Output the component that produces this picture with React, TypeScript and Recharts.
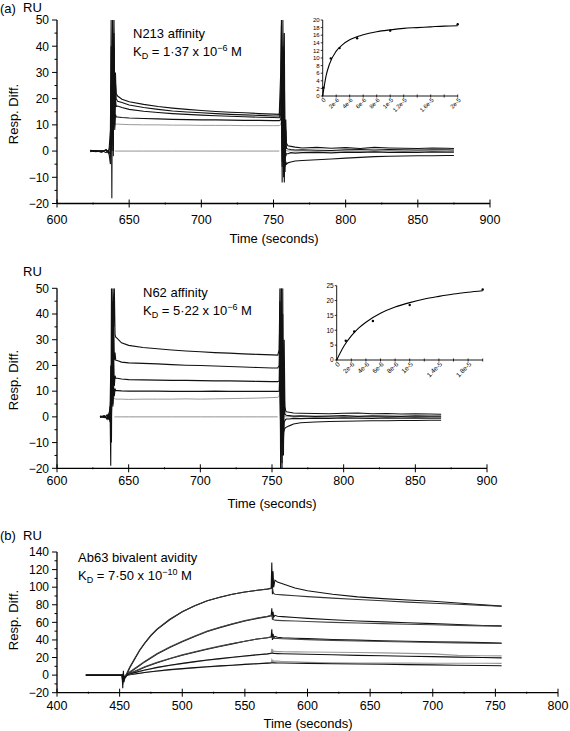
import React from 'react'
import { LineChart, Line, XAxis, YAxis } from 'recharts'

const FONT = '"Liberation Sans", Arial, Helvetica, sans-serif'
const W = 570

// ---- panel (a) top: N213 affinity sensorgrams ----
const tN213 = [623, 627, 631, 634, 636, 637, 637.5, 638, 638.5, 639, 639.5, 640, 640.5, 641, 642, 645, 650, 660, 670, 680, 690, 700, 710, 720, 730, 740, 750, 754, 755, 755.5, 756, 756.5, 757, 757.5, 758, 758.5, 759, 760, 762, 765, 770, 780, 790, 800, 810, 820, 830, 840, 850, 860, 870, 875]
const n213s1 = [0.3, 0, -0.4, 0.6, -0.8, -5, 50, -18, 50, 20, 45, 18, 26, 22, 21, 19.8, 18.8, 17.8, 17, 16.4, 15.9, 15.5, 15.1, 14.8, 14.6, 14.3, 14.1, 14, 30, 50, -12, 50, 5, 45, -8, 12, 3, 2, 1.8, 1.5, 1.2, 1.4, 1.1, 1.3, 1.0, 1.4, 1.2, 1.1, 1.0, 1.2, 1.1, 1.0]
const n213s2 = [0.2, 0.1, -0.3, 0.4, -0.2, 8, 40, 0, 50, -2, 50, 14, 30, 20, 19, 18.5, 17.6, 16.6, 15.9, 15.3, 14.9, 14.6, 14.3, 14.0, 13.8, 13.6, 13.4, 13.4, 20, 48, 0, 40, -10, 30, -4, 8, 1, 0.8, 0.6, 0.4, 0.5, 0.3, 0.2, 0.5, 0.6, 0.4, 0.6, 0.5, 0.4, 0.5, 0.5, 0.4]
const n213s3 = [0, -0.2, 0.2, -0.6, 0.5, 2, 25, 10, 35, 0, 40, 8, 20, 17, 17.2, 16.6, 15.9, 15.2, 14.7, 14.3, 14, 13.7, 13.5, 13.3, 13.1, 12.9, 12.8, 12.7, 14, 35, -6, 28, 2, -12, 6, -2, -1, -1, -0.6, -0.8, -0.6, -0.5, -0.7, -0.4, -0.5, -0.3, -0.5, -0.4, -0.5, -0.3, -0.4, -0.4]
const n213s4 = [-0.2, 0.2, 0, 0.3, -1, 0, 12, 5, 20, 2, 25, 10, 14, 13, 13, 12.8, 12.6, 12.4, 12.3, 12.1, 12, 11.9, 11.9, 11.8, 11.7, 11.7, 11.6, 11.6, 12, 25, -4, 10, -8, 2, -6, -4, -5, -4.5, -4.2, -3.8, -3.6, -3.3, -3.0, -2.7, -2.4, -2.1, -2.0, -1.9, -1.8, -1.8, -1.7, -1.7]
const n213s5 = [0.1, 0, -0.2, 0.2, 0, 0, 5, 2, 12, 8, 11, 9, 10.5, 10.3, 10.3, 10.2, 10.1, 10, 10, 9.9, 9.9, 9.8, 9.8, 9.8, 9.7, 9.7, 9.7, 9.7, 10, 12, 5, 8, 2, 3, 1, 0.5, 0.2, 0, 0.2, 0, 0.1, -0.1, 0, 0.1, -0.1, 0, 0.1, 0, 0, 0.1, 0, 0]
const n213Zero = [null, null, null, null, null, null, null, null, null, null, null, 0, 0, 0, 0, 0, 0, 0, 0, 0, 0, 0, 0, 0, 0, 0, 0, 0, null, null, null, null, null, null, null, null, null, null, null, null, null, null, null, null, null, null, null, null, null, null, null, null]

// ---- panel (a) bottom: N62 affinity sensorgrams ----
const tN62 = [630, 633, 635, 636, 637, 637.5, 638, 638.5, 639, 639.5, 640, 640.5, 641, 642, 645, 650, 660, 670, 680, 690, 700, 710, 720, 730, 740, 750, 754, 755, 755.5, 756, 756.5, 757, 757.5, 758, 758.5, 759, 759.5, 760, 762, 765, 770, 780, 790, 800, 810, 820, 830, 840, 850, 860, 868]
const n62s1 = [0.2, -0.3, 0.8, -0.5, 4, -19, 50, 20, 50, 35, 50, 32, 31, 30.5, 28.8, 27.8, 27, 26.5, 26, 25.6, 25.3, 25, 24.8, 24.5, 24.3, 24.1, 24, 26, 50, -20, 50, -20, 50, -15, 30, 4, 2.5, 2, 1.8, 1.5, 1.4, 1.3, 1.2, 1.4, 1.5, 1.2, 1.3, 1.1, 1.2, 1.1, 1.0]
const n62s2 = [-0.2, 0.3, -0.5, 1, -2, 10, -10, 45, 10, 40, 22, 25, 22, 21.9, 21.3, 21, 20.8, 20.6, 20.3, 20.1, 20, 19.8, 19.6, 19.4, 19.2, 19, 19, 20, 45, -10, 50, -18, 40, -10, 10, 1, 0.8, 0.6, 0.5, 0.3, 0.4, 0.2, 0.3, 0.5, 0.2, 0.4, 0.3, 0.2, 0.4, 0.3, 0.3]
const n62s3 = [0, 0.5, -1, 0.3, 1, 20, 0, 30, 5, 25, 12, 16, 15, 15, 14.7, 14.5, 14.4, 14.3, 14.2, 14.2, 14.1, 14, 14, 13.9, 13.8, 13.7, 13.7, 14, 30, -5, 35, -15, 20, -8, -2, -1.5, -1, -0.8, -0.8, -0.6, -0.7, -0.5, -0.6, -0.4, -0.5, -0.6, -0.4, -0.5, -0.4, -0.5, -0.5]
const n62s4 = [0.3, -0.2, 0.5, -0.8, 0, 8, 2, 15, 4, 12, 8, 11, 10.2, 10.2, 10.1, 10, 10, 10, 9.9, 9.9, 9.9, 10, 9.9, 9.9, 9.9, 9.9, 9.9, 10, 18, -3, 20, -10, 5, -6, -5, -4.5, -4.2, -4, -3.5, -2.8, -2.3, -2, -1.8, -1.7, -1.6, -1.5, -1.5, -1.4, -1.4, -1.3, -1.3]
const n62s5 = [0, 0.1, -0.2, 0, 0, 3, 1, 10, 6, 8, 7, 7, 6.9, 6.9, 6.9, 6.8, 6.9, 6.9, 6.9, 7, 6.9, 7, 7.1, 7.2, 7.3, 7.5, 7.6, 8, 10, 4, 6, 2, 1, 0.5, 0.3, 0.2, 0.1, 0, 0.1, 0, 0.1, 0, -0.1, 0, 0.1, 0, 0, 0.1, 0, 0, 0]
const n62Zero = [null, null, null, null, null, null, null, null, null, null, 0, 0, 0, 0, 0, 0, 0, 0, 0, 0, 0, 0, 0, 0, 0, 0, 0, null, null, null, null, null, null, null, null, null, null, null, null, null, null, null, null, null, null, null, null, null, null, null, null]

// ---- panel (b): Ab63 bivalent avidity, data and fitted curves ----
const tAb63 = [423, 440, 452, 452.5, 453, 453.5, 454, 455, 458, 462, 466, 470, 475, 480, 490, 500, 510, 520, 530, 540, 550, 560, 568, 571, 571.5, 572, 572.5, 573, 574, 576, 580, 590, 600, 620, 640, 660, 680, 700, 720, 740, 755]
const ab1 = [0, 0, 0, -15, 5, -8, -4, -2, 8, 18, 28, 36, 45, 52, 63, 72, 79, 84.5, 88.5, 92, 94.5, 96.5, 98, 99, 128, 92, 118, 100, 108, 106, 104, 99, 96, 92, 89, 87, 85.5, 84, 82, 80, 78.5]
const ab1Fit = [null, null, null, null, null, null, null, 0, 9, 19, 28.5, 36.5, 45.5, 52.5, 63.5, 72, 79, 84.5, 88.5, 92, 94.5, 96.5, 97.8, 98.5, 98.6, 98.7, 95, 93, 92, 91.7, 91.2, 90.2, 89.3, 87.5, 86, 84.5, 83, 81.8, 80.5, 79.3, 78.3]
const ab2 = [0, 0, 0, -10, 2, -5, -3, -1.5, 3, 7, 11, 15, 19.5, 24, 31.5, 38, 44, 49.5, 54, 58, 61.5, 64.5, 66.5, 67.5, 76, 63, 72, 66, 68, 67, 66.5, 65.5, 64.5, 63, 61.5, 60.5, 59.5, 58.5, 57.5, 56.5, 56]
const ab2Fit = [null, null, null, null, null, null, null, 0, 3.5, 7.5, 11.5, 15.5, 20, 24.5, 32, 38.5, 44.5, 50, 54.5, 58.5, 62, 65, 67, 68, 68, 67, 64, 63, 62.5, 62.3, 62, 61.5, 61, 60, 59.2, 58.5, 57.8, 57.2, 56.6, 56, 55.6]
const ab3 = [0, 0, 0, -8, 1, -4, -2, -1, 1.5, 4, 6.5, 9, 11.5, 14, 18.5, 22.5, 26, 29.5, 32.5, 35.5, 38.5, 41, 42.5, 43.5, 52, 40, 47, 42, 44, 43, 42.5, 42, 41.5, 40.5, 39.8, 39, 38.5, 38, 37.5, 37, 36.5]
const ab3Fit = [null, null, null, null, null, null, null, 0, 2, 4.5, 7, 9.5, 12, 14.5, 19, 23, 26.5, 30, 33, 36, 38.5, 41, 42.5, 43, 43, 43, 42.5, 42, 41.8, 41.6, 41.3, 40.8, 40.3, 39.5, 38.8, 38.2, 37.6, 37.1, 36.7, 36.3, 36]
const ab4 = [0, 0, 0, -5, 1, -3, -1.5, -0.5, 1, 2.5, 4, 5.5, 7, 8.5, 11, 13, 15, 17, 18.5, 20, 21.5, 23, 24, 24.5, 30, 25, 28, 26.5, 27, 26.8, 26.6, 26.5, 26.3, 26, 25.7, 25.3, 24.8, 24.2, 22.5, 22, 21.8]
const ab4Fit = [null, null, null, null, null, null, null, 0, 1.2, 2.8, 4.3, 5.8, 7.3, 8.8, 11.3, 13.3, 15.3, 17.2, 18.8, 20.3, 21.8, 23.2, 24.2, 24.8, 24.9, 25, 24.8, 24.6, 24.5, 24.4, 24.3, 24, 23.7, 23.1, 22.5, 22, 21.5, 21, 20.5, 20, 19.6]
const ab5 = [0, 0, 0, -3, 0.5, -2, -1, -0.3, 0.5, 1.3, 2, 3, 3.8, 4.6, 6, 7.2, 8.3, 9.3, 10.3, 11.2, 12.1, 13, 13.7, 14, 17, 14.5, 16.5, 15.5, 16, 15.8, 15.5, 15, 14.5, 14, 13.8, 13.7, 13.6, 13.5, 13.5, 13.5, 13.4]
const ab5Fit = [null, null, null, null, null, null, null, 0, 0.6, 1.4, 2.2, 3, 3.9, 4.7, 6.2, 7.4, 8.5, 9.5, 10.5, 11.3, 12.2, 13, 13.6, 13.9, 14, 14, 14, 13.9, 13.9, 13.8, 13.7, 13.5, 13.3, 12.9, 12.6, 12.3, 11.9, 11.6, 11.3, 11, 10.7]

// ---- insets: steady-state response vs concentration (M) ----
const n213Conc = [0, 5e-7, 1e-6, 2e-6, 3e-6, 4e-6, 6e-6, 8e-6, 1e-5, 1.2e-5, 1.4e-5, 1.6e-5, 1.8e-5, 2e-5]
const n213Fit = [0, 5.3, 8.4, 11.8, 13.6, 14.8, 16.1, 16.9, 17.4, 17.8, 18.0, 18.2, 18.4, 18.5]
const n213PtConc = [1e-7, 1.2e-6, 2.5e-6, 5.1e-6, 1e-5, 2e-5]
const n213PtResp = [2.2, 9.9, 12.6, 15.2, 17.2, 18.9]
const n62Conc = [0, 1e-6, 2e-6, 3e-6, 4e-6, 6e-6, 8e-6, 1e-5, 1.2e-5, 1.4e-5, 1.6e-5, 1.8e-5, 2e-5]
const n62Fit = [0, 4.7, 8.1, 10.7, 12.7, 15.7, 17.8, 19.3, 20.5, 21.4, 22.2, 22.8, 23.3]
const n62PtConc = [1.24e-6, 2.4e-6, 4.96e-6, 1e-5, 2e-5]
const n62PtResp = [6.5, 9.6, 13.1, 18.5, 23.7]
const concTicks = [0, 2e-6, 4e-6, 6e-6, 8e-6, 1e-5, 1.2e-5, 1.4e-5, 1.6e-5, 1.8e-5, 2e-5]
const n213ConcLabels = ['0', '2e-6', '4e-6', '6e-6', '8e-6', '1e-5', '1.2e-5', '', '1.6e-5', '', '2e-5']
const n62ConcLabels = ['0', '2e-6', '4e-6', '6e-6', '8e-6', '1e-5', '', '1.4e-5', '', '1.8e-5', '']

const range = (a: number, b: number, s: number) => {
  const out: number[] = []
  for (let v = a; v <= b + 1e-9; v += s) out.push(Math.round(v * 1e9) / 1e9)
  return out
}

function rowsOf(t: number[], cols: Record<string, (number | null)[]>) {
  return t.map((x, i) => {
    const r: any = { t: x }
    Object.keys(cols).forEach((k) => (r[k] = cols[k][i]))
    return r
  })
}

const pairs = (xs: number[], ys: number[]) => xs.map((x, i) => ({ x, y: ys[i] }))

const fmt = (v: number) => (v < 0 ? '\u2212' + Math.abs(v) : String(v))

const yTick = (major: number, size: number) => (p: any) => {
  const v = p.payload.value
  const isMajor = Math.abs(Math.round(v / major) * major - v) < 1e-9
  return (
    <g>
      <line x1={p.x - (isMajor ? 5 : 2.5)} x2={p.x} y1={p.y} y2={p.y} stroke="#000" strokeWidth={1} />
      {isMajor && (
        <text x={p.x - 8} y={p.y} dy="0.36em" textAnchor="end" fontSize={size} fontFamily={FONT} fill="#000">
          {fmt(v)}
        </text>
      )}
    </g>
  )
}

const xTick = (major: number, size: number, dy: number) => (p: any) => {
  const v = p.payload.value
  const isMajor = Math.abs(Math.round(v / major) * major - v) < 1e-9
  return (
    <g>
      <line x1={p.x} x2={p.x} y1={p.y - (isMajor ? 4 : 1)} y2={p.y + (isMajor ? 4 : 1)} stroke="#000" strokeWidth={1} />
      {isMajor && (
        <text x={p.x} y={p.y + dy} textAnchor="middle" fontSize={size} fontFamily={FONT} fill="#000">
          {fmt(v)}
        </text>
      )}
    </g>
  )
}

type Trace = { key: string; color: string; width: number }
type Box = { left: number; right: number; top: number; bottom: number }

function Panel(props: {
  chartTop: number
  chartH: number
  box: Box
  rows: any[]
  traces: Trace[]
  xDomain: [number, number]
  xTicks: number[]
  yDomain: [number, number]
  yTicks: number[]
  yMajor: number
  xLabelDy: number
}) {
  const { chartTop, chartH, box, rows, traces } = props
  const YW = 40
  const XH = 30
  const margin = {
    top: box.top - chartTop,
    left: box.left - YW,
    right: W - box.right,
    bottom: chartTop + chartH - box.bottom - XH,
  }
  return (
    <div style={{ position: 'absolute', left: 0, top: chartTop }}>
      <LineChart width={W} height={chartH} data={rows} margin={margin}>
        <XAxis
          type="number"
          dataKey="t"
          domain={props.xDomain}
          ticks={props.xTicks}
          interval={0}
          tickSize={0}
          tickMargin={0}
          height={XH}
          allowDataOverflow
          axisLine={{ stroke: '#000', strokeWidth: 1.3 }}
          tick={xTick(50, 12.5, props.xLabelDy)}
        />
        <YAxis
          type="number"
          domain={props.yDomain}
          ticks={props.yTicks}
          interval={0}
          tickSize={0}
          tickMargin={0}
          width={YW}
          allowDataOverflow
          axisLine={{ stroke: '#000', strokeWidth: 1.3 }}
          tick={yTick(props.yMajor, 12)}
        />
        {traces.map((tr) => (
          <Line
            key={tr.key}
            dataKey={tr.key}
            type="linear"
            stroke={tr.color}
            strokeWidth={tr.width}
            dot={false}
            connectNulls={false}
            isAnimationActive={false}
          />
        ))}
      </LineChart>
    </div>
  )
}

function Inset(props: {
  left: number
  top: number
  width: number
  height: number
  box: Box
  fit: { x: number; y: number }[]
  pts: { x: number; y: number }[]
  yMax: number
  yTicks: number[]
  xLabels: string[]
  fontSize: number
}) {
  const { left, top, width, height, box, fontSize } = props
  const YW = 20
  const XH = 20
  const margin = {
    top: box.top - top,
    left: box.left - left - YW,
    right: left + width - box.right,
    bottom: top + height - box.bottom - XH,
  }
  const xt = (p: any) => (
    <g>
      <line x1={p.x} x2={p.x} y1={p.y - 1.5} y2={p.y + 1.5} stroke="#000" strokeWidth={0.8} />
      <text
        transform={`translate(${p.x + 2},${p.y + 3}) rotate(-45)`}
        textAnchor="end"
        dy="0.35em"
        fontSize={fontSize}
        fontFamily={FONT}
        fill="#000"
      >
        {props.xLabels[p.index]}
      </text>
    </g>
  )
  const yt = (p: any) => (
    <g>
      <line x1={p.x - 2} x2={p.x} y1={p.y} y2={p.y} stroke="#000" strokeWidth={0.8} />
      <text x={p.x - 3} y={p.y} dy="0.35em" textAnchor="end" fontSize={fontSize} fontFamily={FONT} fill="#000">
        {p.payload.value}
      </text>
    </g>
  )
  return (
    <div style={{ position: 'absolute', left, top }}>
      <LineChart width={width} height={height} margin={margin}>
        <XAxis
          type="number"
          dataKey="x"
          domain={[0, 2e-5]}
          ticks={concTicks}
          interval={0}
          tickSize={0}
          tickMargin={0}
          height={XH}
          axisLine={{ stroke: '#000', strokeWidth: 0.9 }}
          tick={xt}
        />
        <YAxis
          type="number"
          dataKey="y"
          domain={[0, props.yMax]}
          ticks={props.yTicks}
          interval={0}
          tickSize={0}
          tickMargin={0}
          width={YW}
          axisLine={{ stroke: '#000', strokeWidth: 0.9 }}
          tick={yt}
        />
        <Line data={props.fit} dataKey="y" type="monotone" stroke="#000" strokeWidth={1.1} dot={false} isAnimationActive={false} />
        <Line
          data={props.pts}
          dataKey="y"
          stroke="none"
          dot={{ r: 1.2, fill: '#000', stroke: 'none' }}
          isAnimationActive={false}
        />
      </LineChart>
    </div>
  )
}

function Txt(props: { x: number; y: number; size?: number; center?: boolean; rotate?: boolean; children: React.ReactNode }) {
  const { x, y, size = 13, center, rotate } = props
  const tf = rotate ? 'translate(-50%, -50%) rotate(-90deg)' : center ? 'translate(-50%, -50%)' : 'translateY(-50%)'
  return (
    <div
      style={{
        position: 'absolute',
        left: x,
        top: y,
        transform: tf,
        fontFamily: FONT,
        fontSize: size,
        lineHeight: 1,
        whiteSpace: 'nowrap',
        color: '#000',
      }}
    >
      {props.children}
    </div>
  )
}

const Sub = ({ children }: { children: React.ReactNode }) => (
  <span style={{ fontSize: 9, position: 'relative', top: 3 }}>{children}</span>
)
const Sup = ({ children }: { children: React.ReactNode }) => (
  <span style={{ fontSize: 9, position: 'relative', top: -5 }}>{children}</span>
)

const black = '#111'
const grey = '#9a9a9a'

export default function App() {
  const rowsN213 = rowsOf(tN213, { z: n213Zero, s5: n213s5, s4: n213s4, s3: n213s3, s2: n213s2, s1: n213s1 })
  const rowsN62 = rowsOf(tN62, { z: n62Zero, s5: n62s5, s4: n62s4, s3: n62s3, s2: n62s2, s1: n62s1 })
  const rowsAb = rowsOf(tAb63, {
    d1: ab1, f1: ab1Fit, d2: ab2, f2: ab2Fit, d3: ab3, f3: ab3Fit, d4: ab4, f4: ab4Fit, d5: ab5, f5: ab5Fit,
  })
  const affinityTraces: Trace[] = [
    { key: 'z', color: '#777', width: 0.8 },
    { key: 's5', color: grey, width: 1 },
    { key: 's4', color: black, width: 1.1 },
    { key: 's3', color: black, width: 1.1 },
    { key: 's2', color: black, width: 1.1 },
    { key: 's1', color: black, width: 1.1 },
  ]
  const abTraces: Trace[] = [
    { key: 'd5', color: grey, width: 1.2 },
    { key: 'f5', color: black, width: 1.1 },
    { key: 'd4', color: grey, width: 1.2 },
    { key: 'f4', color: black, width: 1.1 },
    { key: 'd3', color: black, width: 1.1 },
    { key: 'f3', color: '#444', width: 1.1 },
    { key: 'd2', color: black, width: 1.1 },
    { key: 'f2', color: '#444', width: 1.1 },
    { key: 'd1', color: black, width: 1.1 },
    { key: 'f1', color: '#333', width: 1.1 },
  ]

  return (
    <div style={{ position: 'absolute', left: 0, top: 0, width: W, height: 731, background: '#fff', overflow: 'hidden' }}>
      <Panel
        chartTop={0}
        chartH={260}
        box={{ left: 57, right: 490, top: 20, bottom: 203.5 }}
        rows={rowsN213}
        traces={affinityTraces}
        xDomain={[600, 900]}
        xTicks={range(600, 900, 25)}
        yDomain={[-20, 50]}
        yTicks={range(-20, 50, 5)}
        yMajor={10}
        xLabelDy={20}
      />
      <Panel
        chartTop={270}
        chartH={250}
        box={{ left: 57, right: 487, top: 288.3, bottom: 468.3 }}
        rows={rowsN62}
        traces={affinityTraces}
        xDomain={[600, 900]}
        xTicks={range(600, 900, 25)}
        yDomain={[-20, 50]}
        yTicks={range(-20, 50, 5)}
        yMajor={10}
        xLabelDy={16.5}
      />
      <Panel
        chartTop={535}
        chartH={196}
        box={{ left: 57, right: 558, top: 552, bottom: 692.7 }}
        rows={rowsAb}
        traces={abTraces}
        xDomain={[400, 800]}
        xTicks={range(400, 800, 25)}
        yDomain={[-20, 140]}
        yTicks={range(-20, 140, 10)}
        yMajor={20}
        xLabelDy={17}
      />
      <Inset
        left={290}
        top={10}
        width={190}
        height={120}
        box={{ left: 322.7, right: 457.7, top: 20, bottom: 96 }}
        fit={pairs(n213Conc, n213Fit)}
        pts={pairs(n213PtConc, n213PtResp)}
        yMax={20}
        yTicks={range(0, 20, 2)}
        xLabels={n213ConcLabels}
        fontSize={6}
      />
      <Inset
        left={300}
        top={275}
        width={200}
        height={120}
        box={{ left: 336.7, right: 482.7, top: 285.7, bottom: 360 }}
        fit={pairs(n62Conc, n62Fit)}
        pts={pairs(n62PtConc, n62PtResp)}
        yMax={25}
        yTicks={range(0, 25, 5)}
        xLabels={n62ConcLabels}
        fontSize={6.5}
      />

      <Txt x={0} y={8}>(a)</Txt>
      <Txt x={23} y={7}>RU</Txt>
      <Txt x={13} y={114} rotate>Resp. Diff.</Txt>
      <Txt x={274} y={238} center>Time (seconds)</Txt>
      <Txt x={133} y={33}>N213 affinity</Txt>
      <Txt x={133} y={51}>
        K<Sub>D</Sub> = 1·37 x 10<Sup>−6</Sup> M
      </Txt>

      <Txt x={23} y={271}>RU</Txt>
      <Txt x={13} y={380} rotate>Resp. Diff.</Txt>
      <Txt x={272} y={503} center>Time (seconds)</Txt>
      <Txt x={143} y={292}>N62 affinity</Txt>
      <Txt x={143} y={310}>
        K<Sub>D</Sub> = 5·22 x 10<Sup>−6</Sup> M
      </Txt>

      <Txt x={0} y={535}>(b)</Txt>
      <Txt x={23} y={535}>RU</Txt>
      <Txt x={13} y={620} rotate>Resp. Diff.</Txt>
      <Txt x={308} y={723} center>Time (seconds)</Txt>
      <Txt x={78} y={557}>Ab63 bivalent avidity</Txt>
      <Txt x={78} y={575}>
        K<Sub>D</Sub> = 7·50 x 10<Sup>−10</Sup> M
      </Txt>
    </div>
  )
}
